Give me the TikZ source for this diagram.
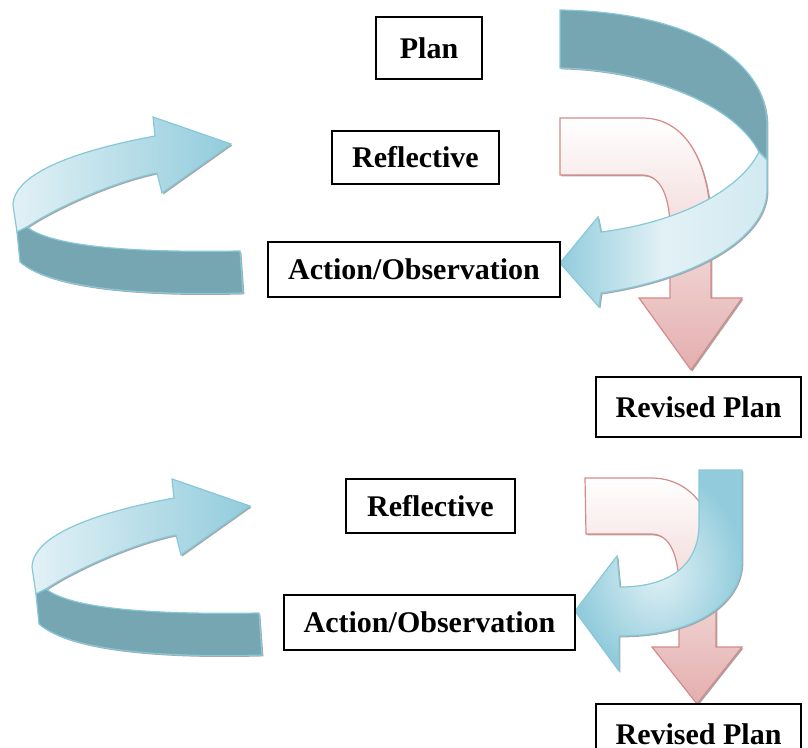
\documentclass[tikz,border=0pt]{standalone}
\usepackage{fontspec}
\setmainfont{Liberation Serif}
\usepackage{xcolor}
\usepackage{tikz}
\usetikzlibrary{shadows}
\definecolor{bluelight}{RGB}{226,241,246}
\definecolor{bluemid}{RGB}{146,204,220}
\definecolor{bluedark}{RGB}{117,166,177}
\definecolor{blueline}{RGB}{135,200,216}
\definecolor{redline}{RGB}{214,138,138}
\definecolor{redfill}{RGB}{228,174,174}
\tikzset{
  stage/.style={
    draw,
    line width=1pt,
    fill=white,
    font=\bfseries\fontsize{15}{18}\selectfont,
    inner sep=0pt
  },
  edgeshadow/.style={drop shadow={shadow xshift=0.7pt, shadow yshift=-0.7pt, fill=gray!70, opacity=1}},
  front/.style={draw=blueline, line width=0.6pt, left color=bluelight, right color=bluemid, edgeshadow},
  back/.style={draw=blueline, line width=0.6pt, fill=bluedark, edgeshadow},
  redturn/.style={draw=redline, line width=0.6pt, top color=white, bottom color=redfill, edgeshadow}
}

\begin{document}
\begin{tikzpicture}[x=0.5pt, y=-0.5pt]
  \useasboundingbox (0,0) rectangle (808,748);
  \clip (0,0) rectangle (808,748);

  % loop arrows on the left
  \foreach \dx/\dy in {0/0, 19/362}{
    \begin{scope}[shift={(\dx,\dy)}]
      \path[front] (13,205) .. controls (14,172) and (80,150) .. (155,136) -- (153,117) -- (231,144)
        -- (162,193) -- (157,173) .. controls (120,180) and (60,205) .. (27,227) -- (17,232) -- cycle;
      \path[back] (27,227) .. controls (50,245) and (120,253) .. (240,251) -- (243,293)
        .. controls (140,296) and (50,288) .. (20,262) -- (17,232) -- cycle;
    \end{scope}
  }

  % upper cycle
  \path[redturn] (560,118) -- (642,118) .. controls (690,118) and (711,170) .. (711,230) -- (711,298)
    -- (742,298) -- (691,370) -- (639,298) -- (670,298) -- (670,230)
    .. controls (670,195) and (660,175) .. (642,175) -- (560,175) -- cycle;
  \path[back] (560,10) .. controls (690,12) and (767,60) .. (767,125) -- (767,160) -- (759,152)
    .. controls (735,105) and (650,70) .. (560,68) -- cycle;
  \path[front, left color=bluemid, right color=bluelight!80!bluemid, middle color=bluelight]
    (759,152) -- (767,160) -- (767,190) .. controls (767,240) and (690,280) .. (601,293)
    -- (599,307) -- (560,263) -- (598,217) -- (601,232)
    .. controls (680,222) and (740,190) .. (759,152) -- cycle;

  % lower cycle
  \path[redturn] (585,478) -- (651,478) .. controls (690,478) and (716,510) .. (716,560) -- (716,647)
    -- (742,647) -- (697,704) -- (652,647) -- (679,647) -- (679,590)
    .. controls (679,555) and (670,534) .. (651,534) -- (586,534) -- cycle;
  \path[front, inner color=bluelight, outer color=bluemid]
    (699,470) -- (742,470) -- (742,561) .. controls (742,600) and (700,636) .. (619,636)
    -- (619,671) -- (575,611) -- (617,556) -- (620,587)
    .. controls (670,587) and (699,565) .. (699,524) -- cycle;

  \node[stage, minimum width=53pt, minimum height=31pt] (plan) at (429,48) {Plan};
  \node[stage, minimum width=83.5pt, minimum height=26.5pt] (refl) at (415.5,157.5) {Reflective};
  \node[stage, minimum width=146pt, minimum height=27.5pt] (act) at (414,269.5) {Action/Observation};
  \node[stage, minimum width=102.5pt, minimum height=30pt] (rev) at (698.5,407) {Revised Plan};

  \node[stage, minimum width=84.5pt, minimum height=27pt] (refl2) at (430.5,506) {Reflective};
  \node[stage, minimum width=145.5pt, minimum height=27.5pt] (act2) at (429.5,622.5) {Action/Observation};
  \node[stage, minimum width=102.5pt, minimum height=30pt] (rev2) at (698.5,734) {Revised Plan};
\end{tikzpicture}
\end{document}
